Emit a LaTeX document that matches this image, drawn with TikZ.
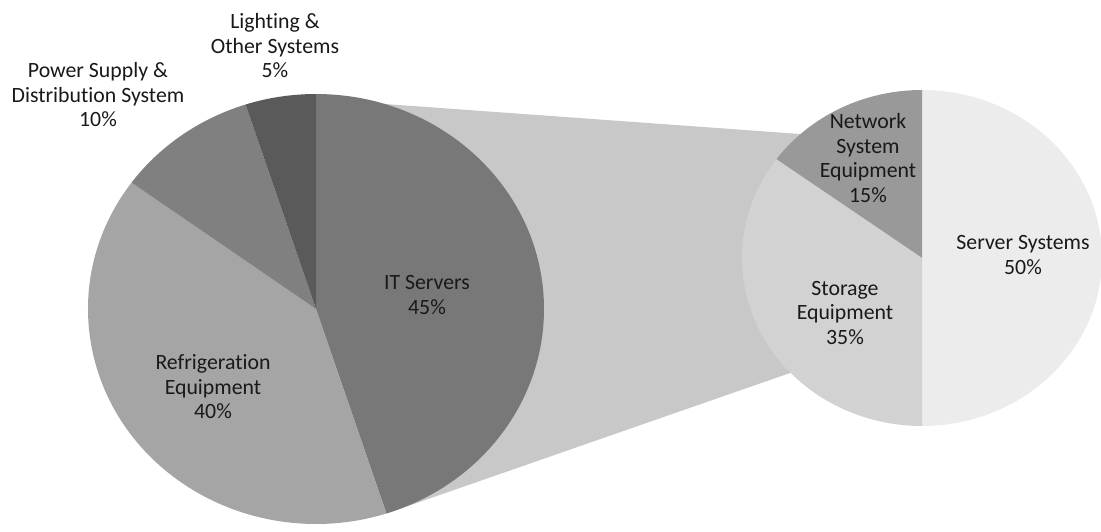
\documentclass[tikz,border=0pt]{standalone}
\usepackage{fontspec}
\setmainfont{Carlito}[Ligatures=NoCommon]
\definecolor{itgray}{HTML}{787878}
\definecolor{fridgegray}{HTML}{A5A5A5}
\definecolor{powergray}{HTML}{808080}
\definecolor{lightgray}{HTML}{5A5A5A}
\definecolor{bandgray}{HTML}{C8C8C8}
\definecolor{netgray}{HTML}{999999}
\definecolor{storegray}{HTML}{D2D2D2}
\definecolor{servergray}{HTML}{ECECEC}
\begin{document}
\begin{tikzpicture}[x=1pt, y=1pt,
    lbl/.style={align=center, text=black!90, font=\fontsize{21.8}{24.5}\selectfont}]
    \useasboundingbox (0,0) rectangle (1101,531);
    \coordinate (bigc) at (316,222);
    \coordinate (smallc) at (922,273);
    % connecting band
    \coordinate (bandtop) at (316,432);
    \coordinate (bandtopend) at (800,397);
    \coordinate (bandbot) at (386.5,17.5);
    \coordinate (bandbotend) at (790,158);
    \fill[bandgray] (bigc) -- (bandtop) -- (bandtopend) -- (smallc) -- (bandbotend) -- (bandbot) -- cycle;
    % big pie
    \fill[itgray] (bigc) -- +(90:228 and 215) arc[start angle=90, end angle=-72, x radius=228, y radius=215] -- cycle;
    \fill[fridgegray] (bigc) -- +(144:228 and 215) arc[start angle=144, end angle=288, x radius=228, y radius=215] -- cycle;
    \fill[powergray] (bigc) -- +(108:228 and 215) arc[start angle=108, end angle=144, x radius=228, y radius=215] -- cycle;
    \fill[lightgray] (bigc) -- +(90:228 and 215) arc[start angle=90, end angle=108, x radius=228, y radius=215] -- cycle;
    % small pie
    \fill[servergray] (smallc) -- +(90:180 and 168) arc[start angle=90, end angle=-90, x radius=180, y radius=168] -- cycle;
    \fill[netgray] (smallc) -- +(90:180 and 168) arc[start angle=90, end angle=144, x radius=180, y radius=168] -- cycle;
    \fill[storegray] (smallc) -- +(144:180 and 168) arc[start angle=144, end angle=270, x radius=180, y radius=168] -- cycle;
    % labels
    \node[lbl] (itlbl) at (427,236) {IT Servers\\45\%};
    \node[lbl] (fridgelbl) at (213,144) {Refrigeration\\Equipment\\40\%};
    \node[lbl] (powerlbl) at (98,436) {Power Supply \&\\Distribution System\\10\%};
    \node[lbl] (lightlbl) at (275,485) {Lighting \&\\Other Systems\\5\%};
    \node[lbl] (serverlbl) at (1023,276) {Server Systems\\50\%};
    \node[lbl] (netlbl) at (868,373) {Network\\System\\Equipment\\15\%};
    \node[lbl] (storelbl) at (845,218) {Storage\\Equipment\\35\%};
\end{tikzpicture}
\end{document}
